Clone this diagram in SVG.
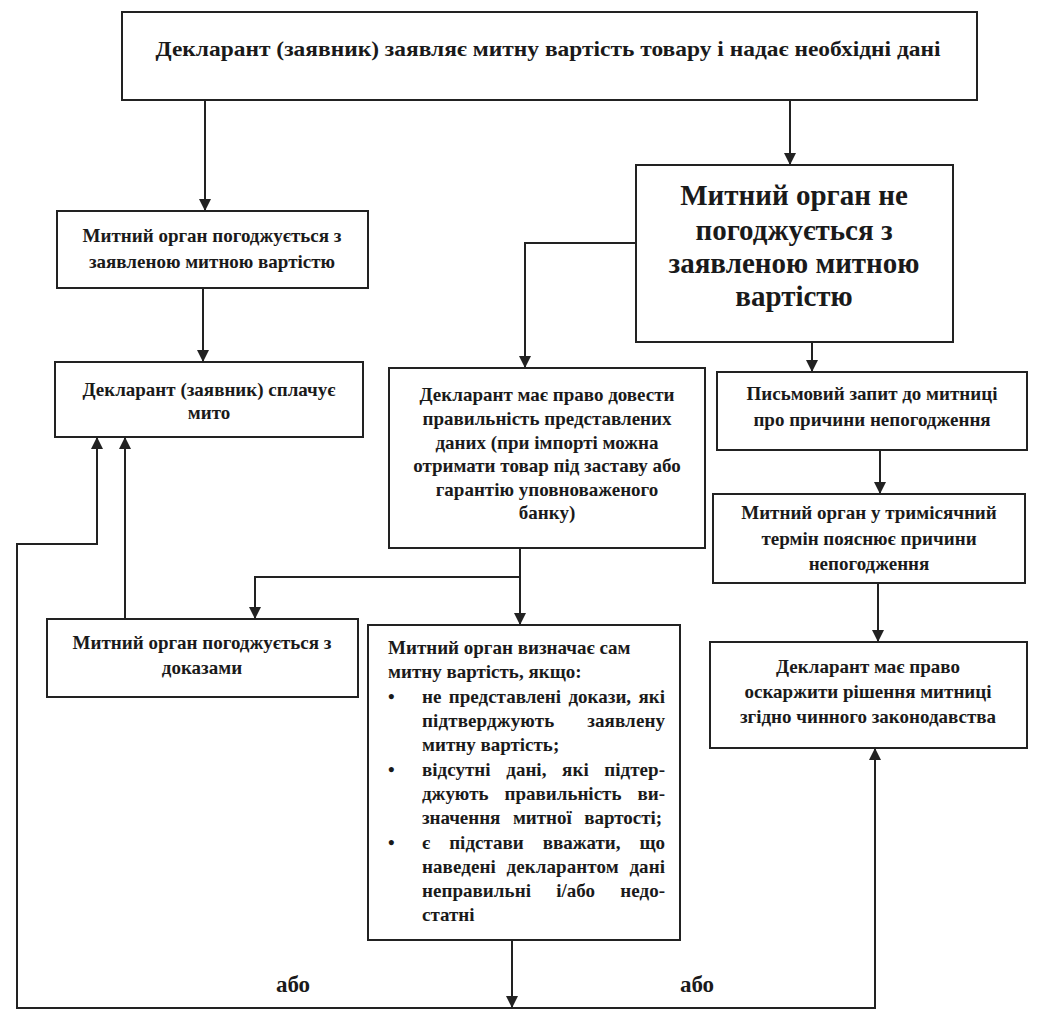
<svg xmlns="http://www.w3.org/2000/svg" width="1043" height="1016" viewBox="0 0 1043 1016" font-family="Liberation Serif, Times New Roman, serif">
<style>
.box{fill:#fff;stroke:#222;stroke-width:2}
.t{font-weight:bold;font-size:19px;fill:#1a1a1a;text-anchor:middle}
.l{text-anchor:start}
.big{font-size:29px}
.top{font-size:22px}
.or{font-size:23px}
.c{fill:none;stroke:#222;stroke-width:2}
</style>
<defs>
<marker id="ah" viewBox="0 0 10 10" refX="10" refY="5" markerWidth="13" markerHeight="12" markerUnits="userSpaceOnUse" orient="auto">
<path d="M0,0 L10,5 L0,10 z" fill="#222"/>
</marker>
</defs>
<rect width="1043" height="1016" fill="#fff"/>

<g id="n-top">
<rect class="box" x="122" y="12" width="855" height="88"/>
<text class="t top" x="548" y="56" textLength="785" lengthAdjust="spacingAndGlyphs">Декларант (заявник) заявляє митну вартість товару і надає необхідні дані</text>
</g>

<g id="n-agree">
<rect class="box" x="57" y="211" width="311" height="77"/>
<text class="t" x="212" y="242">Митний орган погоджується з</text>
<text class="t" x="212" y="268">заявленою митною вартістю</text>
</g>

<g id="n-pay">
<rect class="box" x="55" y="362" width="308" height="75"/>
<text class="t" x="209" y="396">Декларант (заявник) сплачує</text>
<text class="t" x="209" y="419">мито</text>
</g>

<g id="n-disagree">
<rect class="box" x="636" y="165" width="317" height="177"/>
<text class="t big" x="794" y="205">Митний орган не</text>
<text class="t big" x="794" y="240">погоджується з</text>
<text class="t big" x="794" y="273">заявленою митною</text>
<text class="t big" x="794" y="306">вартістю</text>
</g>

<g id="n-prove">
<rect class="box" x="389" y="368" width="316" height="180"/>
<text class="t" x="547" y="401">Декларант має право довести</text>
<text class="t" x="547" y="425">правильність представлених</text>
<text class="t" x="547" y="449">даних (при імпорті можна</text>
<text class="t" x="547" y="472">отримати товар під заставу або</text>
<text class="t" x="547" y="496">гарантію уповноваженого</text>
<text class="t" x="547" y="519">банку)</text>
</g>

<g id="n-request">
<rect class="box" x="717" y="372" width="310" height="78"/>
<text class="t" x="872" y="400">Письмовий запит до митниці</text>
<text class="t" x="872" y="426">про причини непогодження</text>
</g>

<g id="n-explain">
<rect class="box" x="713" y="494" width="312" height="89"/>
<text class="t" x="869" y="519">Митний орган у тримісячний</text>
<text class="t" x="869" y="545">термін пояснює причини</text>
<text class="t" x="869" y="570">непогодження</text>
</g>

<g id="n-appeal">
<rect class="box" x="710" y="642" width="317" height="106"/>
<text class="t" x="868" y="673">Декларант має право</text>
<text class="t" x="868" y="698">оскаржити рішення митниці</text>
<text class="t" x="868" y="723">згідно чинного законодавства</text>
</g>

<g id="n-evidence">
<rect class="box" x="47" y="619" width="311" height="78"/>
<text class="t" x="202" y="649">Митний орган погоджується з</text>
<text class="t" x="202" y="674">доказами</text>
</g>

<g id="n-determine">
<rect class="box" x="368" y="625" width="312" height="315"/>
<text class="t l" x="388" y="654">Митний орган визначає сам</text>
<text class="t l" x="388" y="678">митну вартість, якщо:</text>
<text class="t l" x="388" y="703">•</text>
<text class="t l" x="422" y="703" style="word-spacing:2.6px" textLength="243" lengthAdjust="spacing">не представлені докази, які</text>
<text class="t l" x="422" y="727" style="word-spacing:28px" textLength="243" lengthAdjust="spacing">підтверджують заявлену</text>
<text class="t l" x="422" y="751">митну вартість;</text>
<text class="t l" x="388" y="776">•</text>
<text class="t l" x="422" y="776" style="word-spacing:10.9px" textLength="243" lengthAdjust="spacing">відсутні дані, які підтер-</text>
<text class="t l" x="422" y="800" style="word-spacing:11.3px" textLength="243" lengthAdjust="spacing">джують правильність ви-</text>
<text class="t l" x="422" y="824" style="word-spacing:8px" textLength="240" lengthAdjust="spacing">значення митної вартості;</text>
<text class="t l" x="388" y="849">•</text>
<text class="t l" x="422" y="849" style="word-spacing:14.2px" textLength="243" lengthAdjust="spacing">є підстави вважати, що</text>
<text class="t l" x="422" y="873" style="word-spacing:5.9px" textLength="243" lengthAdjust="spacing">наведені декларантом дані</text>
<text class="t l" x="422" y="897" style="word-spacing:20.4px" textLength="243" lengthAdjust="spacing">неправильні і/або недо-</text>
<text class="t l" x="422" y="921">статні</text>
</g>

<g id="labels">
<text class="t or" x="293" y="992">або</text>
<text class="t or" x="697" y="992">або</text>
</g>

<g id="connectors">
<path class="c" d="M205,100 V211" marker-end="url(#ah)"/>
<path class="c" d="M790,100 V165" marker-end="url(#ah)"/>
<path class="c" d="M203,288 V362" marker-end="url(#ah)"/>
<path class="c" d="M636,243 H525 V368" marker-end="url(#ah)"/>
<path class="c" d="M812,342 V372" marker-end="url(#ah)"/>
<path class="c" d="M880,450 V494" marker-end="url(#ah)"/>
<path class="c" d="M878,583 V642" marker-end="url(#ah)"/>
<path class="c" d="M520,548 V625" marker-end="url(#ah)"/>
<path class="c" d="M520,577 H255 V619" marker-end="url(#ah)"/>
<path class="c" d="M125,619 V437" marker-end="url(#ah)"/>
<path class="c" d="M512,940 V1008" marker-end="url(#ah)"/>
<path class="c" d="M512,1008 H17 V544 H97 V437" marker-end="url(#ah)"/>
<path class="c" d="M512,1008 H875 V748" marker-end="url(#ah)"/>
</g>
</svg>
